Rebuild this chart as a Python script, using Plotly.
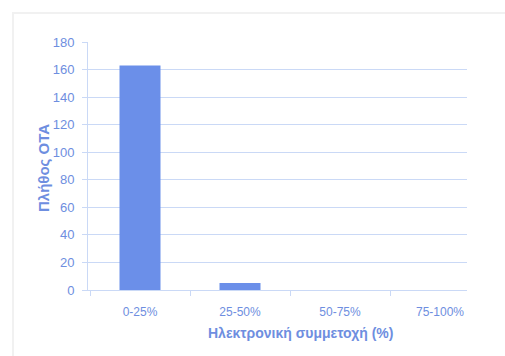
import plotly.graph_objects as go

categories = ["0-25%", "25-50%", "50-75%", "75-100%"]
counts = [163, 5, 0, 0]
y_ticks = [0, 20, 40, 60, 80, 100, 120, 140, 160, 180]

text_color = "#6e8ee0"
bar_color = "#6b8fe9"
grid_color = "#cad9f6"

fig = go.Figure()
fig.add_trace(go.Bar(x=categories, y=counts, width=0.41, marker=dict(color=bar_color, line=dict(width=0))))

W, H = 505, 356
l, r, t, b = 88, 38, 42, 66

fig.update_layout(
    width=W, height=H,
    margin=dict(l=l, r=r, t=t, b=b),
    paper_bgcolor="white", plot_bgcolor="white",
    showlegend=False,
    font=dict(family="Liberation Sans, Arial, sans-serif", color=text_color, size=12),
    xaxis=dict(
        type="category", range=[-0.52, 3.27],
        showgrid=False, showline=True, linecolor=grid_color, linewidth=1,
        ticks="outside", tickson="boundaries", ticklen=5, tickcolor=grid_color,
        ticklabelstandoff=11,
        tickfont=dict(size=12, color=text_color),
    ),
    yaxis=dict(
        range=[0, 180], tickvals=y_ticks,
        showgrid=True, gridcolor=grid_color, gridwidth=1,
        showline=True, linecolor=grid_color, linewidth=1,
        ticks="outside", ticklen=5, tickcolor=grid_color,
        ticklabelstandoff=5, zeroline=False,
        tickfont=dict(size=13, color=text_color),
    ),
    shapes=[
        dict(type="rect", xref="paper", yref="paper",
             x0=-(l - 13) / (W - l - r), x1=(W - l + 20) / (W - l - r),
             y0=-(H - t + 20) / (H - t - b) + 1, y1=1 + (t - 13) / (H - t - b),
             line=dict(color="#f1f1f1", width=2), layer="below"),
    ],
    annotations=[
        dict(text="<b>Πλήθος ΟΤΑ</b>", textangle=-90, xref="paper", yref="paper",
             x=(43 - l) / (W - l - r), y=1 - (168 - t) / (H - t - b),
             xanchor="center", yanchor="middle", showarrow=False,
             font=dict(size=15, color=text_color)),
        dict(text="<b>Ηλεκτρονική συμμετοχή (%)</b>", xref="paper", yref="paper",
             x=(300 - l) / (W - l - r), y=1 - (333 - t) / (H - t - b),
             xanchor="center", yanchor="middle", showarrow=False,
             font=dict(size=14, color=text_color)),
    ],
)

fig.write_html("out.html")
